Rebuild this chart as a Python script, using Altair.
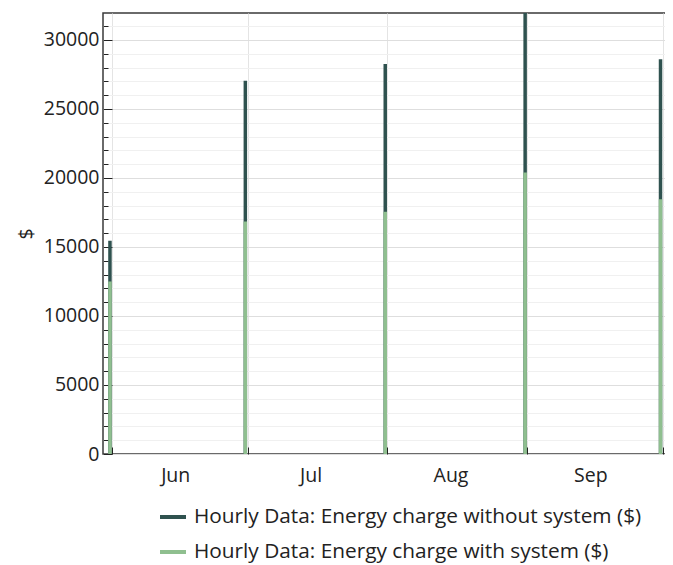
import altair as alt
import pandas as pd

# ---- data ----
bar_times = ["2023-05-31T12:00:00", "2023-06-30T12:00:00", "2023-07-31T12:00:00",
             "2023-08-31T12:00:00", "2023-09-30T12:00:00"]
without_system = [15450, 27050, 28250, 32000, 28600]
with_system = [12500, 16850, 17550, 20400, 18450]
series_names = ["Hourly Data: Energy charge without system ($)",
                "Hourly Data: Energy charge with system ($)"]
series_colors = ["#2f524f", "#8fbf8f"]
month_starts = [(2023, 6, 1), (2023, 7, 1), (2023, 8, 1), (2023, 9, 1), (2023, 10, 1)]
y_major = [0, 5000, 10000, 15000, 20000, 25000, 30000]
y_minor = [v for v in range(1000, 32000, 1000) if v % 5000]

rows = []
for t, v in zip(bar_times, without_system):
    rows.append({"time": t, "series": series_names[0], "value": v})
for t, v in zip(bar_times, with_system):
    rows.append({"time": t, "series": series_names[1], "value": v})
df = pd.DataFrame(rows)

FONT = "Open Sans"
TXT = "#222222"
FS = 19.5

x_domain = [alt.DateTime(year=2023, month=5, date=29, hours=23),
            alt.DateTime(year=2023, month=10, date=3, hours=17)]
x_vals = [alt.DateTime(year=y, month=m, date=d) for (y, m, d) in month_starts]
y_scale = alt.Scale(domain=[0, 31950], nice=False, zero=True)

base = alt.Chart(df)

bars = base.mark_rule(strokeWidth=3.5, clip=True).encode(
    x=alt.X("time:T",
            scale=alt.Scale(domain=x_domain, nice=False),
            axis=alt.Axis(values=x_vals, title=None,
                          labelExpr="month(datum.value) == 9 ? '' : timeFormat(datum.value, '%b')",
                          labelOffset=63, labelFlush=False, labelOverlap=False,
                          tickSize=7, offset=-7, domain=False, tickColor=TXT,
                          grid=True, gridColor="#e4e4e4",
                          labelFont=FONT, labelFontSize=FS, labelColor=TXT,
                          labelPadding=12)),
    y=alt.Y("value:Q", scale=y_scale,
            axis=alt.Axis(values=y_major, title="$", orient="left",
                          tickSize=9, offset=-9, domain=False, tickColor=TXT,
                          grid=True, gridColor="#dedede",
                          labelFont=FONT, labelFontSize=FS, labelColor=TXT,
                          labelPadding=4, format="d",
                          titleFont=FONT, titleFontSize=FS, titleColor=TXT,
                          titleFontWeight="normal", titlePadding=7)),
    y2=alt.datum(0),
    color=alt.Color("series:N",
                    scale=alt.Scale(domain=series_names, range=series_colors),
                    legend=alt.Legend(orient="none", legendX=55, legendY=489,
                                      title=None, symbolType="stroke",
                                      symbolStrokeWidth=4, symbolSize=676,
                                      labelFont=FONT, labelFontSize=20.8,
                                      labelColor=TXT, rowPadding=10,
                                      labelOffset=6, labelLimit=0,
                                      direction="vertical", padding=0)),
)

minor_left = base.mark_rule(opacity=0).encode(
    y=alt.Y("value:Q", scale=y_scale,
            axis=alt.Axis(values=y_minor, orient="left", labels=False, title=None,
                          tickSize=5, offset=-5, domain=False, tickColor=TXT,
                          grid=True, gridColor="#f0f0f0")),
)

major_right = base.mark_rule(opacity=0).encode(
    y=alt.Y("value:Q", scale=y_scale,
            axis=alt.Axis(values=y_major, orient="right", labels=False, title=None,
                          tickSize=8, offset=-8, domain=False, tickColor=TXT,
                          grid=False)),
)

minor_right = base.mark_rule(opacity=0).encode(
    y=alt.Y("value:Q", scale=y_scale,
            axis=alt.Axis(values=y_minor, orient="right", labels=False, title=None,
                          tickSize=4, offset=-4, domain=False, tickColor=TXT,
                          grid=False)),
)

chart = alt.layer(minor_left, major_right, minor_right, bars).resolve_scale(
    y="shared", x="shared"
).resolve_axis(
    y="independent"
).properties(
    width=572, height=441,
    padding={"left": 95, "top": 5, "right": -10, "bottom": 111},
    autosize=alt.AutoSizeParams(type="none"),
).configure_view(
    stroke="#3a3a3a", strokeWidth=1.5
)

chart.save("out.html", embed_options={"renderer": "svg", "actions": False})
